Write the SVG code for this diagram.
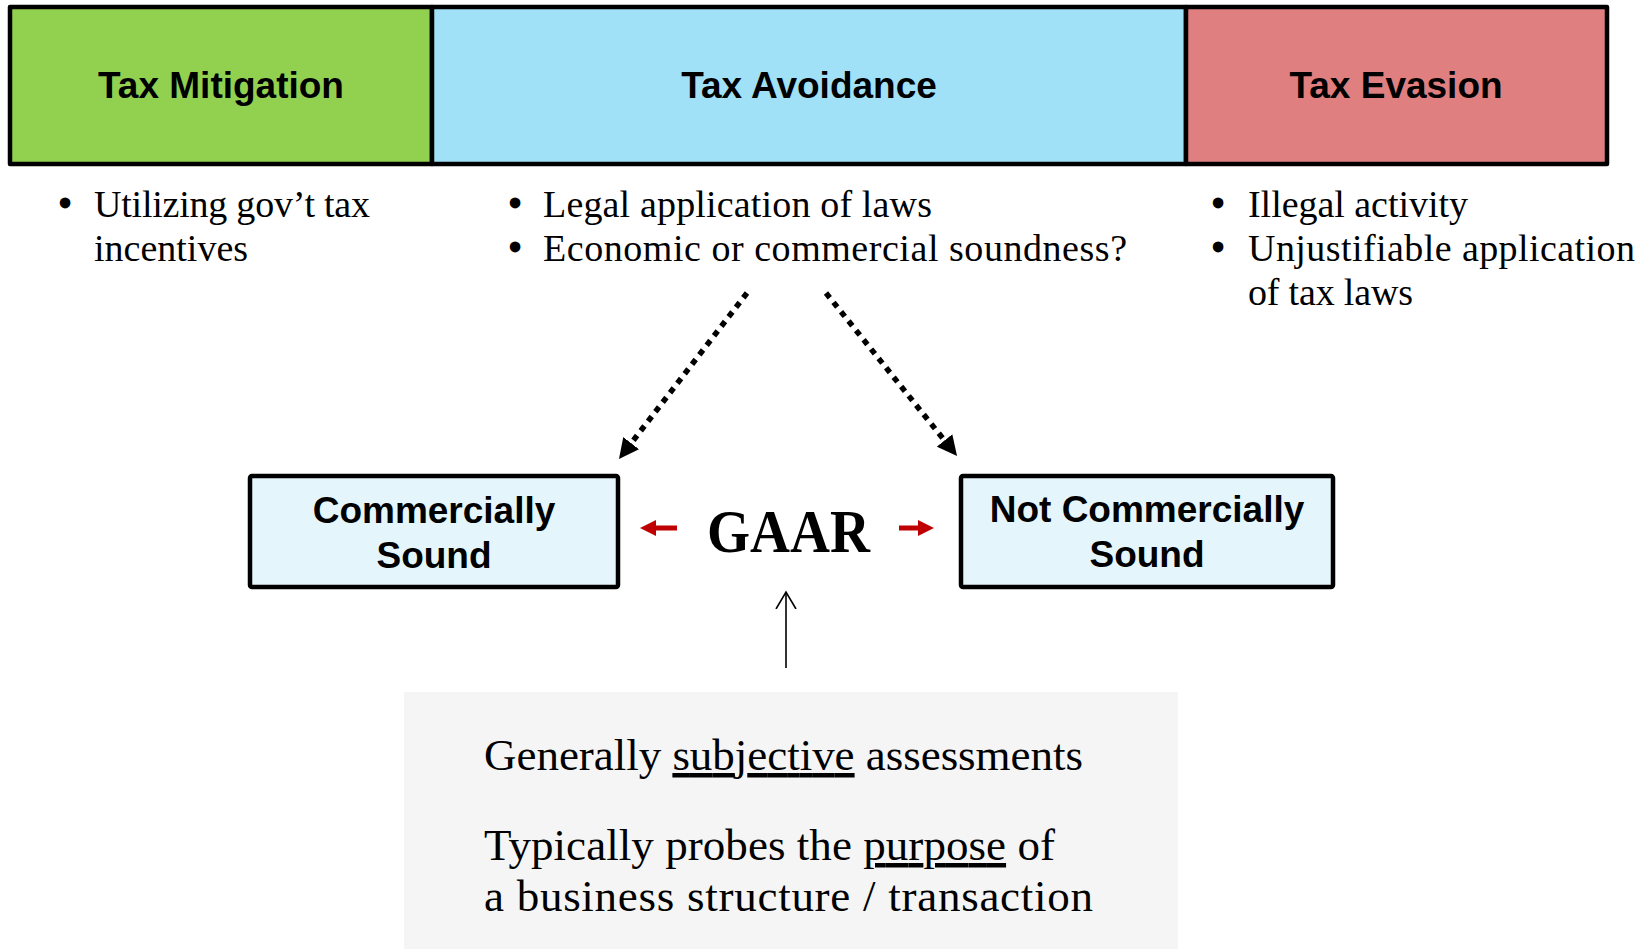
<svg xmlns="http://www.w3.org/2000/svg" width="1652" height="949" viewBox="0 0 1652 949">
  <style>
    .hdr { font-family: "Liberation Sans", Arial, sans-serif; font-weight: bold; font-size: 37px; fill: #000; text-anchor: middle; }
    .box { font-family: "Liberation Sans", Arial, sans-serif; font-weight: bold; font-size: 37px; fill: #000; text-anchor: middle; }
    .bul { font-family: "Liberation Serif", "Times New Roman", serif; font-size: 38px; fill: #000; }
    .dotc { font-family: "Liberation Serif", "Times New Roman", serif; font-size: 39px; font-weight: bold; fill: #000; text-anchor: middle; }
    .note { font-family: "Liberation Serif", "Times New Roman", serif; font-size: 45px; fill: #000; }
    .u { text-decoration: underline; }
    .frame { stroke: #000; stroke-width: 4.5; stroke-linejoin: round; }
    .dot { fill: none; stroke: #000; stroke-width: 5.5; stroke-dasharray: 6 6; }
    .red { fill: none; stroke: #C00000; stroke-width: 5; }
    .thin { fill: none; stroke: #000; stroke-width: 1.6; }
  </style>
  <defs>
    <marker id="headBlack" markerUnits="userSpaceOnUse" viewBox="0 0 20 20" refX="0" refY="10" markerWidth="20" markerHeight="20" orient="auto">
      <path d="M0,0 L20,10 L0,20 z" fill="#000"/>
    </marker>
    <marker id="headRed" markerUnits="userSpaceOnUse" viewBox="0 0 16 16" refX="0" refY="8" markerWidth="16" markerHeight="16" orient="auto">
      <path d="M0,0 L16,8 L0,16 z" fill="#C00000"/>
    </marker>
    <marker id="headOpen" markerUnits="userSpaceOnUse" viewBox="0 0 20 24" refX="17" refY="12" markerWidth="20" markerHeight="24" orient="auto">
      <path d="M0,2 L17,12 L0,22" fill="none" stroke="#000" stroke-width="1.6"/>
    </marker>
  </defs>
  <rect x="0" y="0" width="1652" height="949" fill="#fff"/>

  <g id="node-mitigation">
    <rect class="frame" x="10" y="7" width="422" height="157" fill="#92D050"/>
    <text class="hdr" x="221" y="98">Tax Mitigation</text>
    <text class="dotc" x="65" y="217">•</text>
    <text class="bul" x="94" y="217" textLength="276" lengthAdjust="spacing">Utilizing gov’t tax</text>
    <text class="bul" x="94" y="261">incentives</text>
  </g>

  <g id="node-avoidance">
    <rect class="frame" x="432" y="7" width="754" height="157" fill="#A0E1F8"/>
    <text class="hdr" x="809" y="98">Tax Avoidance</text>
    <text class="dotc" x="515" y="217">•</text>
    <text class="bul" x="543" y="217" textLength="389" lengthAdjust="spacing">Legal application of laws</text>
    <text class="dotc" x="515" y="261">•</text>
    <text class="bul" x="543" y="261" textLength="584" lengthAdjust="spacing">Economic or commercial soundness?</text>
  </g>

  <g id="node-evasion">
    <rect class="frame" x="1186" y="7" width="421" height="157" fill="#DF7F7F"/>
    <text class="hdr" x="1396" y="98">Tax Evasion</text>
    <text class="dotc" x="1218" y="217">•</text>
    <text class="bul" x="1248" y="217" textLength="220" lengthAdjust="spacing">Illegal activity</text>
    <text class="dotc" x="1218" y="261">•</text>
    <text class="bul" x="1248" y="261" textLength="387" lengthAdjust="spacing">Unjustifiable application</text>
    <text class="bul" x="1248" y="305" textLength="165" lengthAdjust="spacing">of tax laws</text>
  </g>

  <g id="node-commercial">
    <rect class="frame" x="250" y="476" width="368" height="111" fill="#E4F5FC" rx="2"/>
    <text class="box" x="434" y="523">Commercially</text>
    <text class="box" x="434" y="568">Sound</text>
  </g>

  <g id="node-notcommercial">
    <rect class="frame" x="961" y="476" width="372" height="111" fill="#E4F5FC" rx="2"/>
    <text class="box" x="1147" y="522">Not Commercially</text>
    <text class="box" x="1147" y="567">Sound</text>
  </g>

  <g id="node-gaar">
    <text x="707" y="552" textLength="163" lengthAdjust="spacingAndGlyphs" style="font-family: 'Liberation Serif', 'Times New Roman', serif; font-weight: bold; font-size: 62px; fill: #000;">GAAR</text>
  </g>

  <g id="node-notes">
    <rect x="404" y="692" width="774" height="257" fill="#F5F5F5"/>
    <text class="note" x="484" y="770" textLength="599" lengthAdjust="spacing">Generally <tspan class="u">subjective</tspan> assessments</text>
    <text class="note" x="484" y="860" textLength="571" lengthAdjust="spacing">Typically probes the <tspan class="u">purpose</tspan> of</text>
    <text class="note" x="484" y="911" textLength="609" lengthAdjust="spacing">a business structure / transaction</text>
  </g>

  <g id="connectors">
    <line class="dot" x1="747" y1="293" x2="631.2" y2="443.2" marker-end="url(#headBlack)"/>
    <line class="dot" x1="826" y1="293" x2="944.5" y2="440.4" marker-end="url(#headBlack)"/>
    <line class="red" x1="677" y1="528" x2="656" y2="528" marker-end="url(#headRed)"/>
    <line class="red" x1="899" y1="528" x2="918" y2="528" marker-end="url(#headRed)"/>
    <line class="thin" x1="786" y1="668" x2="786" y2="592" marker-end="url(#headOpen)"/>
  </g>
</svg>
